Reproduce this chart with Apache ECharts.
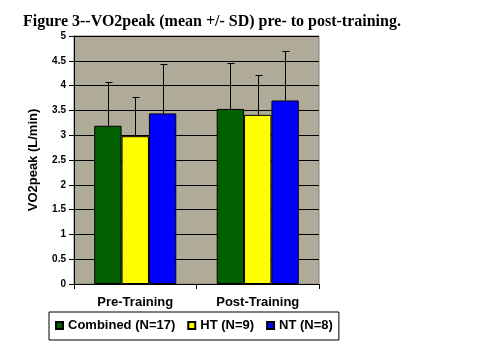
<!DOCTYPE html>
<html><head><meta charset="utf-8">
<script src="https://cdn.jsdelivr.net/npm/echarts@6/dist/echarts.min.js"></script>
<style>html,body{margin:0;padding:0;background:#fff}#c{width:497px;height:356px}</style>
</head><body><div id="c"></div>
<script>
const titleText = 'Figure 3--VO2peak (mean +/- SD) pre- to post-training.';
const yAxisName = 'VO2peak (L/min)';
const categories = ['Pre-Training', 'Post-Training'];
const seriesNames = ['Combined (N=17)', 'HT (N=9)', 'NT (N=8)'];
const seriesColors = ['#006000', '#ffff00', '#0000ff'];
const combinedMean = [3.19, 3.53];
const combinedSD = [0.89, 0.92];
const htMean = [2.98, 3.41];
const htSD = [0.80, 0.80];
const ntMean = [3.44, 3.70];
const ntSD = [0.99, 0.99];

const means = [combinedMean, htMean, ntMean];
const sds = [combinedSD, htSD, ntSD];
const GAP = 0.33;
const BOLD = {fontFamily: 'Liberation Sans, Arial', fontWeight: 'bold', color: '#000'};

const chart = echarts.init(document.getElementById('c'), null, {renderer: 'canvas'});

const barSeries = means.map((m, k) => ({
  type: 'bar', name: seriesNames[k], data: m,
  barGap: '0%', barCategoryGap: (GAP * 100) + '%',
  itemStyle: {color: seriesColors[k], borderColor: '#000', borderWidth: 1},
  emphasis: {disabled: true}, animation: false
}));

const errSeries = means.map((m, k) => ({
  type: 'custom', silent: true, animation: false, z: 10,
  data: m.map((v, i) => [i, v, sds[k][i]]),
  encode: {x: 0, y: 1},
  renderItem(params, api) {
    const i = api.value(0), mv = api.value(1), sd = api.value(2);
    const base = api.coord([i, mv]);
    const top = api.coord([i, mv + sd]);
    const band = api.size([1, 0])[0];
    const bw = band * (1 - GAP) / 3;
    const x = Math.round(base[0] - 1.5 * bw + bw * (k + 0.5)) + 0.5;
    const yt = Math.round(top[1]) + 0.5;
    return {type: 'group', children: [
      {type: 'line', shape: {x1: x, y1: base[1], x2: x, y2: yt}, style: {stroke: '#000', lineWidth: 1}},
      {type: 'line', shape: {x1: x - 3, y1: yt, x2: x + 4, y2: yt}, style: {stroke: '#000', lineWidth: 1}}
    ]};
  }
}));

chart.setOption({
  animation: false,
  backgroundColor: '#fff',
  title: {text: titleText, left: 18, top: 9,
    textStyle: {fontFamily: 'Liberation Serif, Times New Roman', fontWeight: 'bold', fontSize: 16, color: '#000'}},
  legend: {
    data: seriesNames, left: 49, top: 312, orient: 'horizontal',
    borderColor: '#000', borderWidth: 1, padding: [7, 6, 8, 6],
    itemWidth: 7, itemHeight: 7, itemGap: 12, icon: 'rect',
    textStyle: Object.assign({fontSize: 13}, BOLD)
  },
  grid: {left: 74, right: 178, top: 36, bottom: 72, show: true,
    backgroundColor: '#b0ab98', borderColor: '#808080', borderWidth: 1},
  xAxis: {
    type: 'category', data: categories,
    axisLine: {lineStyle: {color: '#000', width: 1}},
    axisTick: {show: true, length: 5, lineStyle: {color: '#000'}},
    axisLabel: Object.assign({fontSize: 13, margin: 12}, BOLD)
  },
  yAxis: {
    type: 'value', min: 0, max: 5, interval: 0.5,
    name: yAxisName, nameLocation: 'middle', nameGap: 34, nameRotate: 90,
    nameTextStyle: Object.assign({fontSize: 13}, BOLD),
    axisLine: {show: true, lineStyle: {color: '#000', width: 1}},
    axisTick: {show: true, length: 5, lineStyle: {color: '#000'}},
    axisLabel: Object.assign({fontSize: 10, margin: 8}, BOLD),
    splitLine: {show: true, lineStyle: {color: '#000', width: 1}}
  },
  series: barSeries.concat(errSeries)
});
</script></body></html>
